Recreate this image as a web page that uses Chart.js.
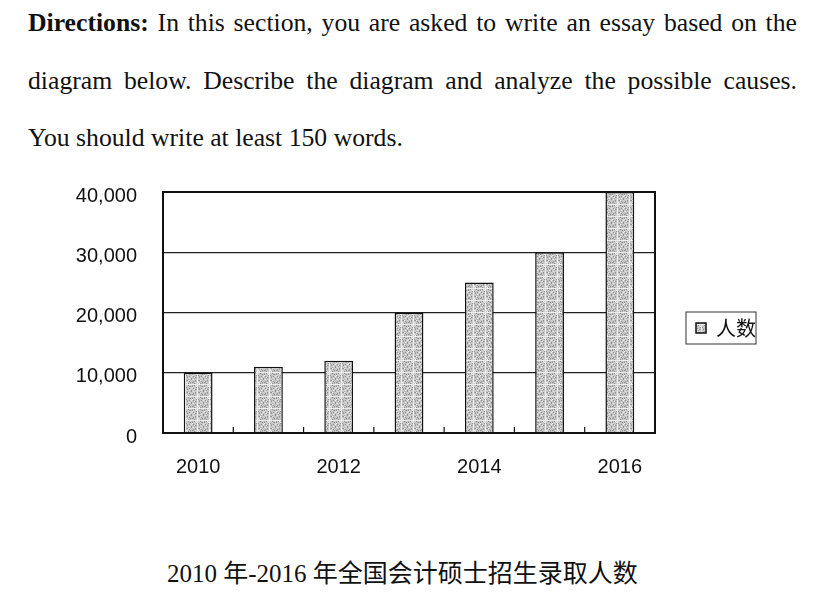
<!DOCTYPE html>
<html>
<head>
<meta charset="utf-8">
<script src="https://cdn.jsdelivr.net/npm/chart.js@4.4.1/dist/chart.umd.min.js"></script>
<style>
  html, body { margin: 0; padding: 0; background: #fff; }
  body { width: 839px; height: 597px; position: relative; overflow: hidden; }
  .line { position: absolute; left: 28px; width: 769px; font-family: 'Liberation Serif', 'Times New Roman', serif;
          font-size: 25.7px; line-height: 30px; color: #111; white-space: nowrap; }
  .just { text-align: justify; text-align-last: justify; white-space: normal; }
  #cap { position: absolute; left: 167px; top: 559px; font-family: 'Liberation Serif', 'Noto Sans CJK SC', serif;
         font-size: 25px; line-height: 30px; color: #111; white-space: nowrap; }
  #wrap { position: absolute; left: 0; top: 154px; width: 839px; height: 348px; }
</style>
</head>
<body>
<div class="line just" style="top:8px"><b>Directions:</b> In this section, you are asked to write an essay based on the</div>
<div class="line just" style="top:66px">diagram below. Describe the diagram and analyze the possible causes.</div>
<div class="line" style="top:123px">You should write at least 150 words.</div>
<div id="wrap"><canvas id="c"></canvas></div>
<div id="cap">2010 年-2016 年全国会计硕士招生录取人数</div>
<script>
// ---- data ----
const years = ['2010', '2011', '2012', '2013', '2014', '2015', '2016'];
const enrolled = [10000, 11000, 12000, 20000, 25000, 30000, 40000];
const seriesLabel = '人数';
const yTicks = [0, 10000, 20000, 30000, 40000];

// stippled gray fill (deterministic)
function makePattern() {
  const p = document.createElement('canvas');
  p.width = 12; p.height = 12;
  const g = p.getContext('2d');
  g.fillStyle = '#c8c8c8';
  g.fillRect(0, 0, 12, 12);
  for (let y = 0; y < 12; y++) {
    for (let x = 0; x < 12; x++) {
      const h = (x * 7 + y * 11 + x * y * 3) % 13;
      if (h === 0 || h === 5) { g.fillStyle = '#909090'; g.fillRect(x, y, 1, 1); }
      else if (h === 3 || h === 9) { g.fillStyle = '#ececec'; g.fillRect(x, y, 1, 1); }
      else if (h === 7) { g.fillStyle = '#aaaaaa'; g.fillRect(x, y, 1, 1); }
    }
  }
  return g.createPattern(p, 'repeat');
}
const fill = makePattern();

const framePlugin = {
  id: 'frame',
  afterDatasetsDraw(chart) {
    const { ctx, chartArea: a, scales } = chart;
    const xs = scales.x;
    ctx.save();
    ctx.strokeStyle = '#111';
    ctx.lineWidth = 2;
    ctx.strokeRect(a.left, a.top, a.right - a.left, a.bottom - a.top);
    ctx.lineWidth = 1.2;
    for (let i = 1; i < years.length; i++) {
      const x = (xs.getPixelForTick(i - 1) + xs.getPixelForTick(i)) / 2;
      ctx.beginPath();
      ctx.moveTo(x, a.bottom);
      ctx.lineTo(x, a.bottom - 6);
      ctx.stroke();
    }
    ctx.restore();
  },
  afterDraw(chart) {
    const hb = chart.legend && chart.legend.legendHitBoxes && chart.legend.legendHitBoxes[0];
    if (!hb) return;
    const ctx = chart.ctx;
    ctx.save();
    ctx.strokeStyle = '#333';
    ctx.lineWidth = 1;
    ctx.strokeRect(hb.left - 10, hb.top - 6, hb.width + 10, hb.height + 12);
    ctx.restore();
  }
};

new Chart(document.getElementById('c'), {
  type: 'bar',
  data: {
    labels: years,
    datasets: [{
      label: seriesLabel,
      data: enrolled,
      backgroundColor: fill,
      borderColor: '#111',
      borderWidth: 1.5,
      barPercentage: 0.41,
      categoryPercentage: 1.0
    }]
  },
  options: {
    responsive: true,
    maintainAspectRatio: false,
    animation: false,
    layout: { padding: { top: 0, bottom: 0, left: 0, right: 73 } },
    plugins: {
      tooltip: { enabled: false },
      legend: {
        position: 'right',
        labels: {
          boxWidth: 10, boxHeight: 10, padding: 41,
          color: '#111',
          font: { family: "'Noto Sans CJK SC', sans-serif", size: 20 }
        }
      }
    },
    scales: {
      x: {
        grid: { display: false, drawTicks: false },
        border: { display: false },
        ticks: {
          autoSkip: false, maxRotation: 0, padding: 22, color: '#111',
          font: { family: "'Liberation Sans', Arial, sans-serif", size: 20 },
          callback: (v, i) => (i % 2 === 0 ? years[i] : '')
        },
        afterFit: s => { s.height = 69; }
      },
      y: {
        min: yTicks[0], max: yTicks[yTicks.length - 1],
        afterBuildTicks: s => { s.ticks = yTicks.map(v => ({ value: v })); },
        grid: { color: '#222', lineWidth: 1.2, drawTicks: false },
        border: { display: false },
        ticks: {
          padding: 26, color: '#111', labelOffset: 4,
          font: { family: "'Liberation Sans', Arial, sans-serif", size: 20 },
          callback: v => Number(v).toLocaleString('en-US')
        },
        afterFit: s => { s.width = 163; }
      }
    }
  },
  plugins: [framePlugin]
});
</script>
</body>
</html>
